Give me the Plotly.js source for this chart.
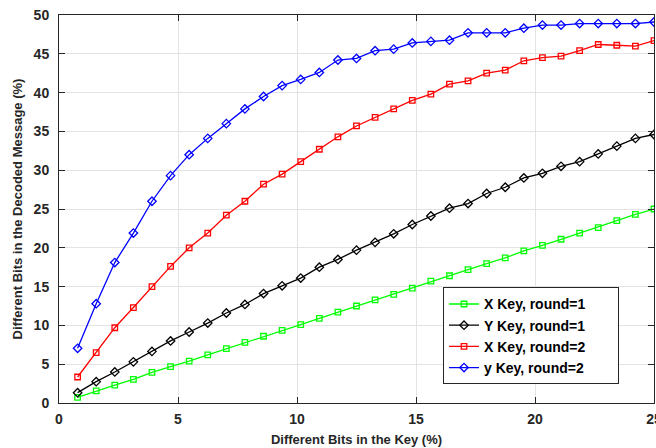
<!DOCTYPE html>
<html>
<head>
<meta charset="utf-8">
<script src="https://cdn.plot.ly/plotly-3.0.1.min.js"></script>
<style>html,body{margin:0;padding:0;background:#fff}#chart{width:656px;height:448px}</style>
</head>
<body>
<div id="chart"></div>
<script>
// x: percentage of different bits in the key (k * 25/32, k = 1..32)
const keyBitsPct = [0.78125,1.5625,2.34375,3.125,3.90625,4.6875,5.46875,6.25,7.03125,7.8125,
  8.59375,9.375,10.15625,10.9375,11.71875,12.5,13.28125,14.0625,14.84375,15.625,
  16.40625,17.1875,17.96875,18.75,19.53125,20.3125,21.09375,21.875,22.65625,23.4375,24.21875,25];

const xKeyRound1 = [0.73,1.55,2.3,3.05,3.95,4.7,5.4,6.2,7.0,7.8,
  8.6,9.35,10.1,10.9,11.7,12.5,13.3,14.0,14.8,15.7,
  16.4,17.2,17.95,18.7,19.6,20.3,21.1,21.9,22.6,23.5,24.3,25.0];

const yKeyRound1 = [1.33,2.75,4.0,5.3,6.65,8.0,9.15,10.3,11.6,12.7,
  14.1,15.1,16.1,17.5,18.5,19.7,20.7,21.8,23.0,24.1,
  25.1,25.7,27.0,27.8,29.0,29.6,30.5,31.1,32.1,33.1,34.1,34.6];

const xKeyRound2 = [3.35,6.5,9.7,12.3,15.0,17.6,20.0,21.9,24.2,26.0,
  28.2,29.5,31.1,32.7,34.3,35.7,36.8,37.9,39.0,39.8,
  41.1,41.5,42.5,42.9,44.1,44.5,44.7,45.4,46.2,46.1,46.0,46.7];

const yKeyRound2 = [7.05,12.8,18.1,21.9,26.0,29.3,32.0,34.1,36.0,37.9,
  39.5,40.9,41.7,42.6,44.2,44.4,45.4,45.6,46.4,46.6,
  46.75,47.7,47.7,47.7,48.3,48.7,48.7,48.9,48.9,48.9,48.9,49.1];

const seriesNames = ['X Key, round=1','Y Key, round=1','X Key, round=2','y Key, round=2'];
const seriesData = [xKeyRound1, yKeyRound1, xKeyRound2, yKeyRound2];
const seriesColors = ['#00ff00','#000000','#ff0000','#0000ff'];
const seriesSymbols = ['square-open','diamond-open','square-open','diamond-open'];

const pad = '\u00a0'.repeat(7);

const traces = seriesData.map((ys, i) => ({
  x: keyBitsPct, y: ys, name: seriesNames[i] + pad, type: 'scatter', mode: 'lines+markers',
  line: {color: seriesColors[i], width: 1.3},
  marker: {symbol: seriesSymbols[i], size: i % 2 ? 6.5 : 5.5, color: seriesColors[i], line: {width: 1.3, color: seriesColors[i]}}
}));

const fontBase = {family: 'Liberation Sans, Arial, sans-serif', color: '#262626', weight: 'bold'};

const axisCommon = {
  showline: true, linecolor: '#262626', linewidth: 1, mirror: 'ticks',
  ticks: 'inside', ticklen: 6, tickcolor: '#262626', tickwidth: 1,
  showgrid: true, gridcolor: '#e3e3e3', gridwidth: 1, zeroline: false,
  tickfont: Object.assign({size: 14}, fontBase), automargin: false,
  ticklabeloverflow: 'allow'
};

const layout = {
  width: 656, height: 448,
  margin: {l: 59, r: 2, t: 15, b: 45},
  paper_bgcolor: '#ffffff', plot_bgcolor: '#ffffff',
  showlegend: true,
  legend: {
    x: 0.6454, y: 0.173, xanchor: 'left', yanchor: 'middle',
    bgcolor: '#ffffff', bordercolor: '#262626', borderwidth: 1,
    font: Object.assign({size: 14}, fontBase, {color: '#000'}),
    tracegroupgap: 0, itemwidth: 30
  },
  xaxis: Object.assign({}, axisCommon, {
    range: [0, 25], dtick: 5, tick0: 0, ticklabelstandoff: 3,
    title: {text: 'Different Bits in the Key (%)', font: Object.assign({size: 13}, fontBase), standoff: 9}
  }),
  yaxis: Object.assign({}, axisCommon, {
    range: [0, 50], dtick: 5, tick0: 0, ticklabelstandoff: 6,
    title: {text: 'Different Bits in the Decoded Message (%)', font: Object.assign({size: 13}, fontBase), standoff: 8}
  })
};

Plotly.newPlot('chart', traces, layout, {displayModeBar: false, staticPlot: true});
</script>
</body>
</html>
